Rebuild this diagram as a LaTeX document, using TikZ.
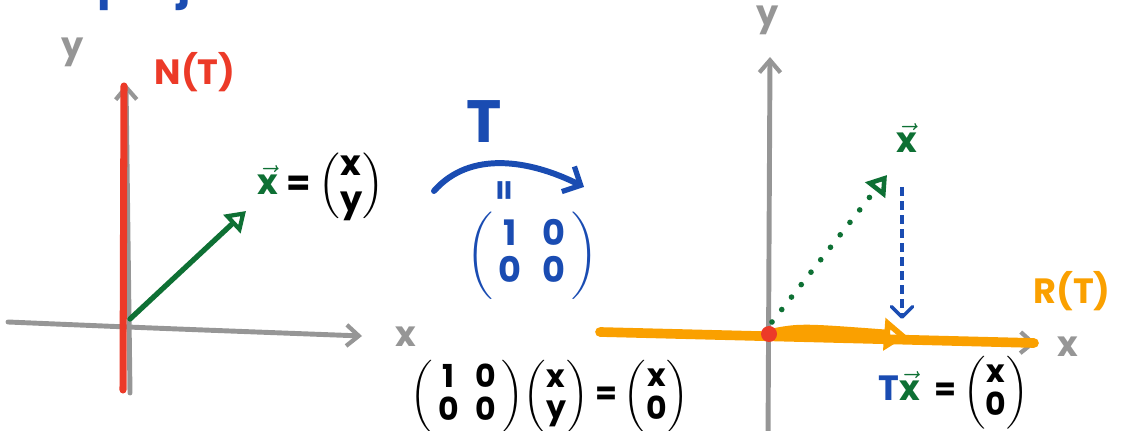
\documentclass[tikz,border=0pt]{standalone}
\usepackage{amsmath}
\usepackage{fontspec}
\setmainfont{Poppins}
\usetikzlibrary{arrows.meta}
\definecolor{axgray}{RGB}{150,150,150}
\definecolor{nred}{RGB}{236,58,40}
\definecolor{vgreen}{RGB}{14,112,52}
\definecolor{tblue}{RGB}{26,76,178}
\definecolor{rorange}{RGB}{250,160,0}
\newcommand{\vx}{\ensuremath{\vec{\text{x}}}}
\newcommand{\cvec}[2]{\ensuremath{\left(\renewcommand{\arraystretch}{0.85}\begin{array}{@{}c@{}}\text{#1}\\\text{#2}\end{array}\right)}}
\newcommand{\cmat}[4]{\ensuremath{\left(\renewcommand{\arraystretch}{0.85}\begin{array}{@{\,}c@{\;\;}c@{\,}}\text{#1}&\text{#2}\\\text{#3}&\text{#4}\end{array}\right)}}
\tikzset{
  axis/.style={draw=axgray, line width=2.8pt, line cap=round, -{Straight Barb[length=7pt,width=12pt,line width=2.4pt]}},
  glab/.style={text=axgray, font=\fontsize{20}{22}\selectfont\bfseries},
  hand/.style={font=\fontsize{20}{24}\selectfont\bfseries, inner sep=0pt},
  small/.style={font=\fontsize{18}{21}\selectfont\bfseries, inner sep=0pt},
  vecarrow/.style={draw=vgreen, line width=3pt, line cap=round, -{Triangle[open,length=11pt,width=14pt,line width=2.4pt]}},
}
\begin{document}
\begin{tikzpicture}[x=0.02cm,y=-0.02cm]
\useasboundingbox (0,0) rectangle (1124,431);
% cut-off title
\node[text=tblue, font=\fontsize{26}{30}\selectfont\bfseries, anchor=base west, inner sep=0pt] (title) at (97,-1) {projection};
% ---------- left plot ----------
\coordinate (lxs) at (8,322);
\coordinate (lxe) at (362,336);
\coordinate (lys) at (130,393);
\coordinate (lye) at (126,84);
\draw[axis] (lxs) .. controls (150,328) .. (lxe);
\draw[axis] (lys) -- (lye);
\node[glab] (lxl) at (406,337) {x};
\node[glab] (lyl) at (73,52) {y};
\coordinate (ns) at (123,390);
\coordinate (ne) at (124,86);
\draw[draw=nred, line width=4pt, line cap=round] (ns) -- (ne);
\node[hand, text=nred] (ntl) at (195,72) {N(T)};
\coordinate (o1) at (130,319);
\coordinate (v1) at (246,211);
\draw[vecarrow] (o1) -- (v1);
\node[hand, text=vgreen] (xl1) at (268,180) {\vx};
\node[hand, anchor=west] (eq1) at (286,186) {= \cvec{x}{y}};
% ---------- middle ----------
\node[text=tblue, font=\fontsize{34}{38}\selectfont\bfseries, inner sep=0pt] (tl) at (484,122) {T};
\coordinate (cs) at (434,191);
\coordinate (ce) at (584,187);
\draw[draw=tblue, line width=3.4pt, line cap=round, -{Straight Barb[length=8pt,width=16pt,line width=3pt]}] (cs) .. controls (470,150) and (530,160) .. (ce);
\node[text=tblue, rotate=90, font=\fontsize{18}{20}\selectfont\bfseries] (eqv) at (507,190) {=};
\node[hand, text=tblue] (mat) at (532,256) {\cmat{1}{0}{0}{0}};
\node[small] (bot) at (550,397) {\cmat{1}{0}{0}{0}\cvec{x}{y} = \cvec{x}{0}};
% ---------- right plot ----------
\coordinate (rys) at (768,440);
\coordinate (rye) at (770,57);
\draw[axis] (rys) -- (rye);
\node[glab] (ryl) at (768,20) {y};
\coordinate (rxs) at (600,332);
\coordinate (rxe) at (1036,343);
\draw[axis] (rxs) -- (rxe);
\node[glab] (rxl) at (1068,347) {x};
\coordinate (rts) at (600,332);
\coordinate (rte) at (1034,343);
\draw[draw=rorange, line width=5.5pt, line cap=round] (rts) -- (rte);
\node[hand, text=rorange] (rtl) at (1072,291) {R(T)};
\coordinate (o2) at (769,334);
\coordinate (tx) at (907,336);
\draw[draw=rorange, line width=5.5pt, line cap=round, -{Triangle[open,length=13pt,width=18pt,line width=3.5pt]}] (o2) .. controls (800,328) .. (tx);
\coordinate (v2s) at (772,322);
\coordinate (v2) at (887,175);
\draw[draw=vgreen, line width=3.2pt, line cap=round, dash pattern=on 0pt off 9pt, -{Triangle[open,length=11pt,width=14pt,line width=2.6pt]}] (v2s) -- (v2);
\node[hand, text=vgreen] (xl2) at (907,138) {\vx};
\coordinate (ds) at (902,187);
\coordinate (de) at (902,319);
\draw[draw=tblue, line width=2pt, dash pattern=on 5pt off 3pt, -{Straight Barb[length=6pt,width=12pt,line width=2pt,round]}] (ds) -- (de);
\fill[nred] (o2) circle (8);
\node[hand, anchor=east] (txl) at (920,386) {\textcolor{tblue}{T}\textcolor{vgreen}{\vx}};
\node[small, anchor=west] (eq2) at (934,393) {= \cvec{x}{0}};
\end{tikzpicture}
\end{document}
